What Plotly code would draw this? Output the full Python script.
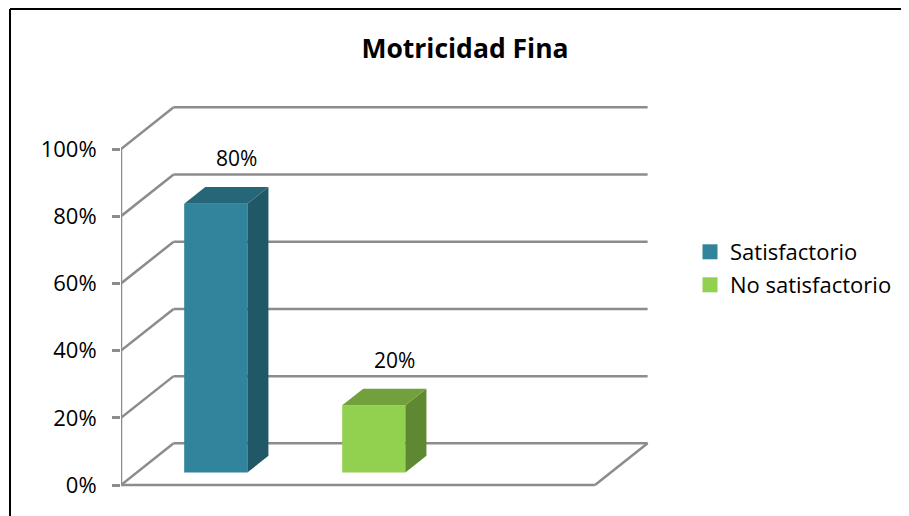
import plotly.graph_objects as go

# ---- data ----
series_names = ["Satisfactorio", "No satisfactorio"]
series_values = [80, 20]
value_labels = ["80%", "20%"]
tick_values = [0, 20, 40, 60, 80, 100]
tick_labels = ["0%", "20%", "40%", "60%", "80%", "100%"]

# ---- style ----
front_colors = ["#31849B", "#92D050"]
side_colors = ["#215867", "#5F8833"]
top_colors = ["#256779", "#72A03D"]
grid_color = "#8C8C8C"
FONT = "Open Sans"

# 3D geometry in axis units
N_SLOTS = 3          # floor width in category slots
DX = 0.333           # depth offset in x units
DY = 12.4            # depth offset in y units (%)
F0, F1 = 0.30, 0.70  # bar depth fractions
BAR_W = 0.4

OFF = 8  # page body margin
W, H = 909 - 2 * OFF, 516 - OFF
L = 121 - OFF
T = 95 - OFF
PLOT_RIGHT = 661 - OFF
PLOT_BOTTOM = 495 - OFF
R = W - PLOT_RIGHT
B = H - PLOT_BOTTOM
PW, PH = W - L - R, H - T - B
px_per_x = 158.0
px_per_y = 3.36
Y0 = 485 - OFF
x_range = [0, PW / px_per_x]
y_range = [-(PLOT_BOTTOM - Y0) / px_per_y, (Y0 - T) / px_per_y]

fig = go.Figure()

# bars: front faces via bar traces, side/top faces via filled polygons
for i, (name, v) in enumerate(zip(series_names, series_values)):
    cx = i + 0.5
    base = F0 * DY
    fx = cx + F0 * DX
    fig.add_trace(go.Bar(
        x=[fx], y=[v], base=[base], width=[BAR_W], name=name,
        marker=dict(color=front_colors[i], line=dict(width=0)),
        showlegend=False, hoverinfo="skip",
    ))
for i, v in enumerate(series_values):
    cx = i + 0.5
    base = F0 * DY
    xl = cx + F0 * DX - BAR_W / 2
    xr = cx + F0 * DX + BAR_W / 2
    d = (F1 - F0) * DX
    dy = (F1 - F0) * DY
    top = base + v
    fig.add_trace(go.Scatter(
        x=[xr, xr + d, xr + d, xr, xr],
        y=[base, base + dy, top + dy, top, base],
        fill="toself", fillcolor=side_colors[i], mode="lines",
        line=dict(width=0, color=side_colors[i]), showlegend=False, hoverinfo="skip",
    ))
    fig.add_trace(go.Scatter(
        x=[xl, xr, xr + d, xl + d, xl],
        y=[top, top, top + dy, top + dy, top],
        fill="toself", fillcolor=top_colors[i], mode="lines",
        line=dict(width=0, color=top_colors[i]), showlegend=False, hoverinfo="skip",
    ))
    fig.add_annotation(
        x=cx + F1 * DX, y=top + dy, text=value_labels[i], showarrow=False,
        yanchor="bottom", yshift=13, font=dict(family=FONT, size=21, color="#000000"),
    )

# legend entries (square swatches)
for i, name in enumerate(series_names):
    fig.add_trace(go.Scatter(
        x=[None], y=[None], mode="markers", name=name,
        marker=dict(symbol="square", size=15, color=front_colors[i], line=dict(width=0)),
        legend="legend" if i == 0 else "legend2", hoverinfo="skip",
    ))

# walls / floor gridlines
line_style = dict(color=grid_color, width=2.5)
for tv in tick_values:
    fig.add_shape(type="line", xref="x", yref="y", layer="below",
                  x0=DX, x1=N_SLOTS + DX, y0=tv + DY, y1=tv + DY, line=line_style)
    fig.add_shape(type="line", xref="x", yref="y", layer="below",
                  x0=0, x1=DX, y0=tv, y1=tv + DY, line=line_style)
# front axis line
fig.add_shape(type="line", xref="x", yref="y", layer="below",
              x0=0, x1=0, y0=tick_values[0], y1=tick_values[-1], line=line_style)
# floor front edge and right diagonal
fig.add_shape(type="line", xref="x", yref="y", layer="below",
              x0=0, x1=N_SLOTS, y0=0, y1=0, line=line_style)
fig.add_shape(type="line", xref="x", yref="y", layer="below",
              x0=N_SLOTS, x1=N_SLOTS + DX, y0=0, y1=DY, line=line_style)

# outer chart border: top and left edges only (others are cut off in the picture)
bx, by = 10 - OFF, 9 - OFF
bx_end = 903 - OFF
border = dict(color="#000000", width=2)
fig.add_shape(type="line", xref="paper", yref="paper", layer="above",
              x0=(bx - L) / PW, x1=(bx_end - L) / PW,
              y0=(PLOT_BOTTOM - by) / PH, y1=(PLOT_BOTTOM - by) / PH, line=border)
fig.add_shape(type="line", xref="paper", yref="paper", layer="above",
              x0=(bx - L) / PW, x1=(bx - L) / PW,
              y0=(PLOT_BOTTOM - by) / PH, y1=(PLOT_BOTTOM - (H + 20)) / PH, line=border)

legend_common = dict(
    xref="container", yref="container",
    xanchor="left", yanchor="middle", x=(690 - OFF) / W,
    font=dict(family=FONT, size=22, color="#000000"),
    bgcolor="rgba(0,0,0,0)", borderwidth=0,
)

fig.update_layout(
    width=W, height=H,
    margin=dict(l=L, r=R, t=T, b=B),
    paper_bgcolor="white", plot_bgcolor="white",
    barmode="overlay",
    title=dict(text="Motricidad Fina", x=(465 - OFF) / W, xanchor="center",
               y=1 - (49 - OFF) / H, yanchor="middle", xref="container", yref="container",
               font=dict(family=FONT, size=26.5, color="#000000", weight=700)),
    xaxis=dict(range=x_range, visible=False, fixedrange=True),
    yaxis=dict(range=y_range, tickvals=tick_values, ticktext=tick_labels,
               showgrid=False, zeroline=False, showline=False,
               ticks="outside", ticklen=8, tickwidth=2.5, tickcolor=grid_color,
               ticklabelstandoff=11,
               tickfont=dict(family=FONT, size=22, color="#000000"),
               fixedrange=True),
    legend=dict(**legend_common, y=1 - (252 - OFF) / H),
    legend2=dict(**legend_common, y=1 - (285 - OFF) / H),
    showlegend=True,
)

fig.write_html("out.html")
